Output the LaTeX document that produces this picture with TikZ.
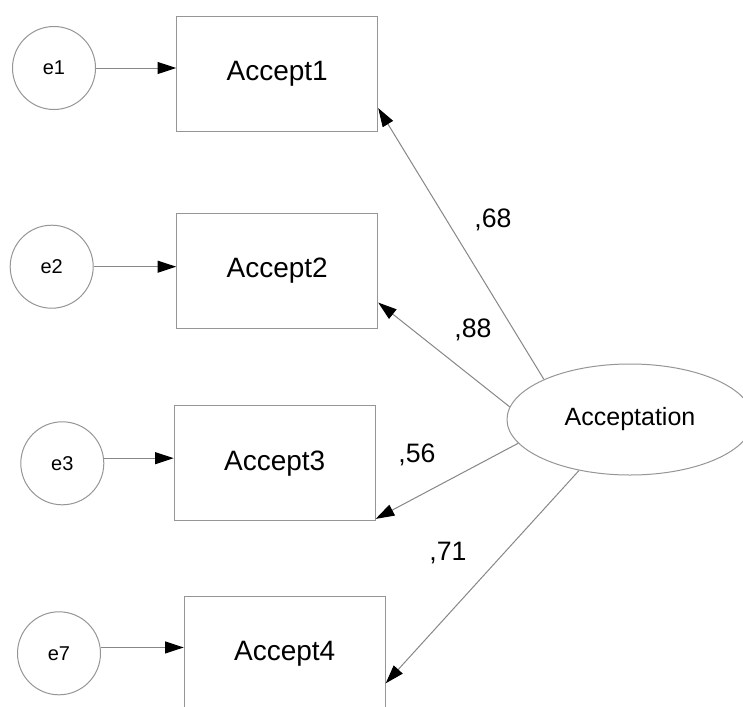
\documentclass[tikz,border=0pt]{standalone}
\usepackage{fontspec}
\setmainfont{Liberation Sans}
\usetikzlibrary{arrows.meta,shapes.geometric,calc}
\definecolor{boxgray}{RGB}{150,150,150}
\definecolor{linegray}{RGB}{135,135,135}
\begin{document}
\begin{tikzpicture}[x=0.75pt,y=-0.75pt,
  errc/.style={circle,draw=boxgray,line width=0.75pt,minimum size=62.25pt,inner sep=0pt,font=\fontsize{15}{18}\selectfont},
  obsbox/.style={rectangle,draw=boxgray,line width=0.75pt,minimum width=150.75pt,minimum height=86.25pt,inner sep=0pt,font=\fontsize{21}{25}\selectfont},
  latent/.style={ellipse,draw=boxgray,line width=0.75pt,minimum width=184.5pt,minimum height=83.25pt,inner sep=0pt,font=\fontsize{18.75}{22}\selectfont},
  conn/.style={draw=linegray,line width=0.75pt,-{Triangle[length=14pt,width=9pt,color=black]}},
  wlabel/.style={font=\fontsize{20}{24}\selectfont,inner sep=0pt}
]
\fill[white] (0,0) rectangle (743,707);
\useasboundingbox (0,0) rectangle (743,707);
\clip (0,0) rectangle (743,707);

\node[errc] (e1) at (54,68) {e1};
\node[obsbox] (a1) at (277.2,73.9) {Accept1};
\node[errc] (e2) at (51.7,266.7) {e2};
\node[obsbox] (a2) at (277.2,271) {Accept2};
\node[errc] (e3) at (62.3,463.3) {e3};
\node[obsbox] (a3) at (274.7,463.2) {Accept3};
\node[errc] (e7) at (59,653.3) {e7};
\node[obsbox] (a4) at (284.7,653.5) {Accept4};
\node[latent] (lat) at (630,419.5) {Acceptation};

\draw[conn] (e1.east) -- (e1.east -| a1.west);
\draw[conn] (e2.east) -- (e2.east -| a2.west);
\draw[conn] (e3.7) -- (e3.7 -| a3.west);
\draw[conn] (e7.8) -- (e7.8 -| a4.west);

\draw[conn] (lat.155) -- ($(a1.south east)!0.205!(a1.north east)$);
\draw[conn] (lat.174) -- ($(a2.south east)!0.228!(a2.north east)$);
\draw[conn] (lat.192) -- ($(a3.south east)!0.02!(a3.north east)$);
\draw[conn] (lat.225) -- ($(a4.north east)!0.757!(a4.south east)$);

\node[wlabel] (l1) at (493,220) {,68};
\node[wlabel] (l2) at (473,330) {,88};
\node[wlabel] (l3) at (417,455) {,56};
\node[wlabel] (l4) at (448,553) {,71};
\end{tikzpicture}
\end{document}
